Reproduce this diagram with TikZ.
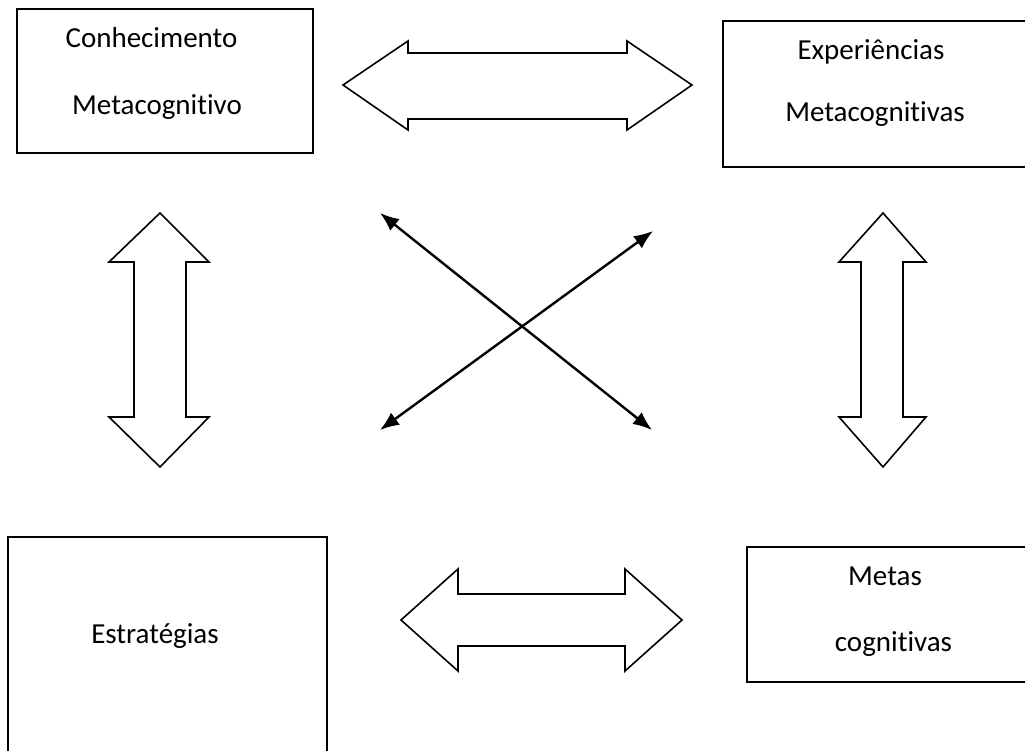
\documentclass[tikz,border=0pt]{standalone}
\usepackage{fontspec}
\setmainfont[Ligatures={NoCommon}]{Carlito}
\usetikzlibrary{arrows.meta}
\tikzset{
  box/.style={draw=black, line width=2pt, inner sep=0pt, fill=white},
  lbl/.style={anchor=base, inner sep=0pt, font=\fontsize{29}{35}\selectfont},
  blockarrow/.style={draw=black, line width=1.6pt, fill=white, line join=miter},
  xarrow/.style={line width=2.4pt, {Latex[length=19pt,width=15pt]}-{Latex[length=19pt,width=15pt]}}
}
\begin{document}
\begin{tikzpicture}[x=1pt,y=-1pt]
\useasboundingbox (0,0) rectangle (1025,751);
\fill[white] (0,0) rectangle (1025,751);
\clip (0,0) rectangle (1025,751);
% boxes
\node[box, minimum width=296pt, minimum height=144pt] (conh) at (165,81) {};
\node[box, minimum width=310pt, minimum height=146pt] (exp) at (878,94) {};
\node[box, minimum width=319pt, minimum height=230pt] (estr) at (167.5,652) {};
\node[box, minimum width=286pt, minimum height=135pt] (metas) at (890,614.5) {};
% labels
\node[lbl] (t1) at (151.5,48) {Conhecimento};
\node[lbl] (t2) at (157,115) {Metacognitivo};
\node[lbl] (t3) at (871,60) {Experiências};
\node[lbl] (t4) at (875,121.5) {Metacognitivas};
\node[lbl] (t5) at (155,643) {Estratégias};
\node[lbl] (t6) at (885,585) {Metas};
\node[lbl] (t7) at (893.5,651.5) {cognitivas};
% block arrows
\draw[blockarrow] (343,85) -- (408,41) -- (408,53) -- (627,53) -- (627,41) -- (692,85) -- (627,130) -- (627,119) -- (408,119) -- (408,130) -- cycle;
\draw[blockarrow] (401,620) -- (458,569) -- (458,594) -- (625,594) -- (625,569) -- (682,620) -- (625,671) -- (625,646) -- (458,646) -- (458,671) -- cycle;
\draw[blockarrow] (160,213) -- (209,262) -- (186,262) -- (186,417) -- (209,417) -- (160,467) -- (109,417) -- (134,417) -- (134,262) -- (109,262) -- cycle;
\draw[blockarrow] (883,213) -- (926,262) -- (903,262) -- (903,417) -- (926,417) -- (883,467) -- (839,417) -- (861,417) -- (861,262) -- (839,262) -- cycle;
% crossing arrows
\coordinate (ul) at (380,213);
\coordinate (lr) at (652,430);
\coordinate (ll) at (380,430);
\coordinate (ur) at (653,231);
\draw[xarrow] (ul) -- (lr);
\draw[xarrow] (ll) -- (ur);
\end{tikzpicture}
\end{document}
